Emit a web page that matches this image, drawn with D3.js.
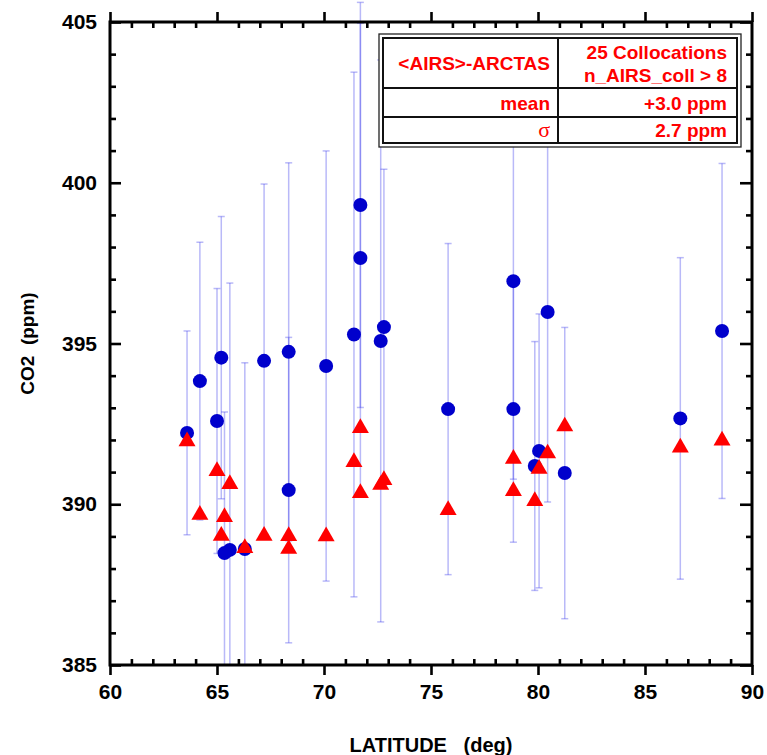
<!DOCTYPE html>
<html>
<head>
<meta charset="utf-8">
<script src="https://cdn.jsdelivr.net/npm/d3@7"></script>
<style>
  body { margin: 0; background: #fff; }
  svg { display: block; font-family: "Liberation Sans", Arial, sans-serif; }
  .axis path, .axis line { stroke: #000; }
  .axis text { font-weight: bold; font-size: 21px; fill: #000; }
</style>
</head>
<body>
<svg width="767" height="755"></svg>
<script>
// collocation latitudes (deg)
const latitude = [63.6, 64.2, 65.0, 65.2, 65.35, 65.6, 66.3, 67.2, 68.35, 68.35,
                  70.1, 71.4, 71.7, 71.7, 72.8, 72.65, 75.8, 78.85, 78.85, 79.85,
                  80.05, 80.45, 81.25, 86.65, 88.6];
// <AIRS> CO2 (ppm) and its error bar half-width
const airs = [392.22, 393.83, 392.59, 394.56, 388.48, 388.58, 388.61, 394.46, 394.74, 390.44,
              394.30, 395.28, 399.31, 397.66, 395.51, 395.08, 392.96, 396.94, 392.96, 391.19,
              391.66, 395.98, 390.97, 392.67, 395.39];
const airsErr = [3.17, 4.32, 4.12, 4.39, 4.39, 8.3, 5.79, 5.5, 5.88, 4.75,
                 6.69, 8.16, 6.3, 7.3, 4.91, 8.74, 5.15, 6.16, 4.14, 3.87,
                 4.26, 5.91, 4.53, 5.0, 5.21];
// ARCTAS aircraft CO2 (ppm)
const arctas = [391.96, 389.67, 391.03, 389.02, 389.6, 390.63, 388.64, 389.02, 389.01, 388.61,
                389.0, 391.31, 392.37, 390.35, 390.75, 390.6, 389.82, 391.41, 390.41, 390.1,
                391.1, 391.58, 392.42, 391.76, 391.98];

const xTicks = [60, 65, 70, 75, 80, 85, 90];
const yTicks = [385, 390, 395, 400, 405];
const legendRows = [
  [["<AIRS>-ARCTAS"], ["25 Collocations", "n_AIRS_coll > 8"]],
  [["mean"], ["+3.0 ppm"]],
  [["\u03c3"], ["2.7 ppm"]]
];

const svg = d3.select('svg');
const margin = {left: 110, right: 15, top: 22, bottom: 90};
const W = 767, H = 755;
const x = d3.scaleLinear().domain([60, 90]).range([margin.left, W - margin.right]);
const y = d3.scaleLinear().domain([385, 405]).range([H - margin.bottom, margin.top]);
const x0 = x.range()[0], x1 = x.range()[1], y0 = y.range()[0], y1 = y.range()[1];

svg.append('rect').attr('width', W).attr('height', H).attr('fill', '#fff');

svg.append('defs').append('clipPath').attr('id', 'clip')
  .append('rect').attr('x', x0).attr('y', 0).attr('width', x1 - x0).attr('height', y0);

const data = latitude.map((lat, i) => ({lat, airs: airs[i], err: airsErr[i], arctas: arctas[i]}));

// error bars
const eb = svg.append('g').attr('clip-path', 'url(#clip)')
  .attr('stroke', 'rgba(60,60,235,0.36)').attr('stroke-width', 1.5).attr('fill', 'none');
data.forEach(d => {
  const cx = x(d.lat), top = y(d.airs + d.err), bot = y(d.airs - d.err);
  eb.append('line').attr('x1', cx).attr('x2', cx).attr('y1', top).attr('y2', bot);
  eb.append('line').attr('x1', cx - 3.5).attr('x2', cx + 3.5).attr('y1', top).attr('y2', top);
  eb.append('line').attr('x1', cx - 3.5).attr('x2', cx + 3.5).attr('y1', bot).attr('y2', bot);
});

// AIRS circles
svg.append('g').selectAll('circle').data(data).join('circle')
  .attr('cx', d => x(d.lat)).attr('cy', d => y(d.airs)).attr('r', 7)
  .attr('fill', '#0000cc');

// ARCTAS triangles
const tri = d3.symbol().type(d3.symbolTriangle).size(125);
svg.append('g').selectAll('path').data(data).join('path')
  .attr('transform', d => `translate(${x(d.lat)},${y(d.arctas)})`)
  .attr('d', tri).attr('fill', '#ff0000');

// axes
const minorX = d3.range(60, 91, 1).filter(v => v % 5 !== 0);
const minorY = d3.range(385, 406, 1).filter(v => v % 5 !== 0);

function styleAxis(g) {
  g.select('.domain').remove();
  g.selectAll('line').attr('stroke-width', 2.6);
}

svg.append('g').attr('class', 'axis').attr('transform', `translate(0,${y0})`)
  .call(d3.axisBottom(x).tickValues(xTicks).tickSize(10).tickPadding(9).tickFormat(d3.format('d')))
  .call(styleAxis);
svg.append('g').attr('class', 'axis').attr('transform', `translate(0,${y0})`)
  .call(d3.axisBottom(x).tickValues(minorX).tickSize(-6).tickFormat(''))
  .call(styleAxis);
svg.append('g').attr('class', 'axis').attr('transform', `translate(0,${y1})`)
  .call(d3.axisTop(x).tickValues(xTicks).tickSize(10).tickFormat(''))
  .call(styleAxis);
svg.append('g').attr('class', 'axis').attr('transform', `translate(0,${y1})`)
  .call(d3.axisTop(x).tickValues(minorX).tickSize(-6).tickFormat(''))
  .call(styleAxis);

svg.append('g').attr('class', 'axis').attr('transform', `translate(${x0},0)`)
  .call(d3.axisLeft(y).tickValues(yTicks).tickSize(-11).tickPadding(13).tickFormat(d3.format('d')))
  .call(styleAxis);
svg.append('g').attr('class', 'axis').attr('transform', `translate(${x0},0)`)
  .call(d3.axisLeft(y).tickValues(minorY).tickSize(-6).tickFormat(''))
  .call(styleAxis);
svg.append('g').attr('class', 'axis').attr('transform', `translate(${x1},0)`)
  .call(d3.axisRight(y).tickValues(yTicks).tickSize(-12).tickFormat(''))
  .call(styleAxis);
svg.append('g').attr('class', 'axis').attr('transform', `translate(${x1},0)`)
  .call(d3.axisRight(y).tickValues(minorY).tickSize(-6).tickFormat(''))
  .call(styleAxis);

// frame
svg.append('rect').attr('x', x0).attr('y', y1).attr('width', x1 - x0).attr('height', y0 - y1)
  .attr('fill', 'none').attr('stroke', '#000').attr('stroke-width', 3);

// axis titles
svg.append('text').attr('x', (x0 + x1) / 2).attr('y', 752)
  .attr('text-anchor', 'middle').attr('font-weight', 'bold').attr('font-size', 20)
  .style('white-space', 'pre').text('LATITUDE   (deg)');
svg.append('text').attr('transform', `translate(34,${(y0 + y1) / 2}) rotate(-90)`)
  .attr('text-anchor', 'middle').attr('font-weight', 'bold').attr('font-size', 19)
  .style('white-space', 'pre').text('CO2  (ppm)');

// legend table
const lg = svg.append('g');
const box = {l: 379, r: 741, t: 34, b: 147};
const colX = 558, rowY = [38, 88, 117, 143];
lg.append('rect').attr('x', box.l).attr('y', box.t).attr('width', box.r - box.l).attr('height', box.b - box.t)
  .attr('fill', '#fff').attr('stroke', '#222').attr('stroke-width', 1.3);
lg.append('rect').attr('x', box.l + 4).attr('y', box.t + 4).attr('width', box.r - box.l - 8).attr('height', box.b - box.t - 8)
  .attr('fill', 'none').attr('stroke', '#111').attr('stroke-width', 2);
[88, 117].forEach(v => lg.append('line').attr('x1', box.l + 4).attr('x2', box.r - 4)
  .attr('y1', v).attr('y2', v).attr('stroke', '#111').attr('stroke-width', 2));
lg.append('line').attr('x1', colX).attr('x2', colX).attr('y1', box.t + 4).attr('y2', box.b - 4)
  .attr('stroke', '#111').attr('stroke-width', 2);

legendRows.forEach((row, i) => {
  const mid = (rowY[i] + rowY[i + 1]) / 2;
  row.forEach((lines, j) => {
    const tx = j === 0 ? 550 : 727;
    const t = lg.append('text').attr('text-anchor', 'end').attr('fill', '#ff0000')
      .attr('font-weight', 'bold').attr('font-size', 19);
    if (lines[0] === '\u03c3') t.attr('font-family', '"Liberation Serif", serif').attr('font-weight', 'normal').attr('font-size', 22);
    lines.forEach((s, k) => {
      t.append('tspan').attr('x', tx)
        .attr('y', mid + 7 + (k - (lines.length - 1) / 2) * 23).text(s);
    });
  });
});
</script>
</body>
</html>
